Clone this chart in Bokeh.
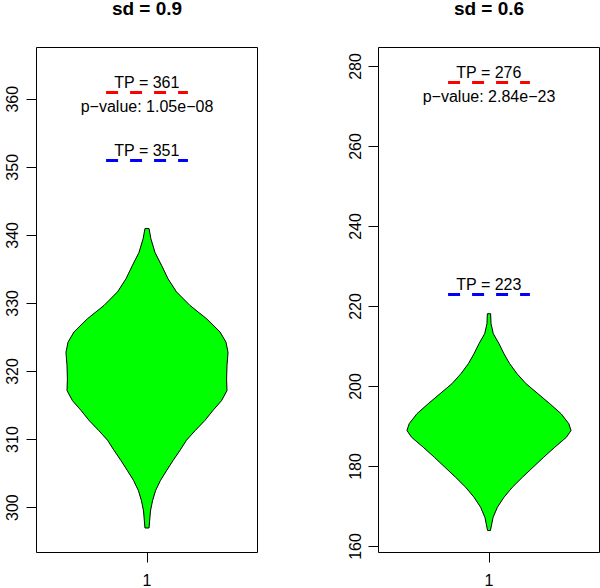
from bokeh.plotting import figure
from bokeh.layouts import row
from bokeh.models import Range1d, FixedTicker, Title
from bokeh.core.properties import value
from bokeh.embed import file_html
from bokeh.resources import INLINE

FONT = "Liberation Sans"

# ---- data ----
titles = ["sd = 0.9", "sd = 0.6"]

# violin 1 (sd = 0.9): y value and half width (x units) of the outline
v1_y = [341.0, 339.5, 337.5, 335.6, 333.6, 331.7, 329.7, 327.75, 325.8, 324.3,
        322.8, 320.9, 318.9, 317.2, 315.7, 314.3, 312.8, 311.3, 309.9, 308.4,
        306.9, 305.4, 304.0, 302.5, 301.0, 299.5, 297.0]
v1_w = [0.010, 0.019, 0.039, 0.071, 0.103, 0.144, 0.210, 0.291, 0.357, 0.386,
        0.396, 0.391, 0.389, 0.391, 0.364, 0.323, 0.283, 0.235, 0.193, 0.161,
        0.127, 0.095, 0.066, 0.042, 0.027, 0.017, 0.010]

# violin 2 (sd = 0.6)
v2_y = [218.2, 215.7, 213.2, 210.7, 208.2, 205.7, 203.2, 200.7, 198.2, 195.7,
        193.2, 190.7, 189.0, 187.3, 184.8, 182.3, 179.8, 177.3, 174.8, 172.3,
        169.8, 167.3, 164.0]
v2_w = [0.008, 0.010, 0.021, 0.049, 0.073, 0.101, 0.137, 0.181, 0.239, 0.297,
        0.352, 0.390, 0.401, 0.378, 0.321, 0.267, 0.215, 0.163, 0.114, 0.073,
        0.041, 0.020, 0.007]

tp_red = [361, 276]
tp_blue = [351, 223]
pvalues = ["p\u2212value: 1.05e\u221208", "p\u2212value: 2.84e\u221223"]

y_limits = [(293.4, 367.6), (158.5, 284.75)]
y_ticks = [[300, 310, 320, 330, 340, 350, 360], [160, 180, 200, 220, 240, 260, 280]]
x_ticks = [1]
x_tick_labels = {1: "1"}


def panel(i, vy, vw, border_left, border_right):
    p = figure(width=300, height=588,
               x_range=Range1d(0.46, 1.54), y_range=Range1d(*y_limits[i]),
               output_backend="svg", toolbar_location=None,
               min_border_left=border_left, min_border_right=border_right,
               min_border_top=47, min_border_bottom=36)

    # main title (outermost) and an invisible spacer between it and the frame
    p.title.text = titles[i]
    p.title.align = "center"
    p.title.vertical_align = "top"
    p.title.standoff = -12
    p.title.text_font = FONT
    p.title.text_font_size = "19px"
    p.title.text_font_style = "bold"
    p.title.text_color = "black"
    p.add_layout(Title(text=" ", text_font=FONT, text_font_size="10px",
                       standoff=20), "above")

    p.grid.visible = False
    p.outline_line_color = "black"
    p.outline_line_width = 1
    p.background_fill_color = "white"
    p.border_fill_color = "white"

    for ax in (p.xaxis[0], p.yaxis[0]):
        ax.axis_line_color = None
        ax.major_tick_line_color = "black"
        ax.major_tick_out = 10
        ax.major_tick_in = 0
        ax.minor_tick_line_color = None
        ax.major_label_text_font = FONT
        ax.major_label_text_font_size = "16px"
        ax.major_label_text_color = "black"
    p.xaxis.ticker = FixedTicker(ticks=x_ticks)
    p.xaxis.major_label_overrides = x_tick_labels
    p.xaxis.major_label_standoff = 11
    p.yaxis.ticker = FixedTicker(ticks=y_ticks[i])
    p.yaxis.major_label_orientation = "vertical"
    p.yaxis.major_label_standoff = 8

    xs = [1 - w for w in vw] + [1 + w for w in reversed(vw)]
    ys = list(vy) + list(reversed(vy))
    p.patch(xs, ys, fill_color="#00FF00", line_color="black", line_width=1)

    for tp, col in ((tp_red[i], "#FF0000"), (tp_blue[i], "#0000FF")):
        p.segment(x0=[0.8], y0=[tp], x1=[1.2], y1=[tp], line_color=col,
                  line_width=3, line_dash="12 12", line_cap="butt")
        p.text(x=[1], y=[tp], text=[f"TP = {tp}"], text_align="center",
               text_baseline="alphabetic", y_offset=-10, text_font=value(FONT),
               text_font_size="16px", text_color="black")
    p.text(x=[1], y=[tp_red[i]], text=[pvalues[i]], text_align="center",
           text_baseline="alphabetic", y_offset=14, text_font=value(FONT),
           text_font_size="16px", text_color="black")
    return p


p1 = panel(0, v1_y, v1_w, 36, 43)
p2 = panel(1, v2_y, v2_w, 78, 1)

layout = row(p1, p2)

open("out.html", "w").write(file_html(layout, INLINE))
